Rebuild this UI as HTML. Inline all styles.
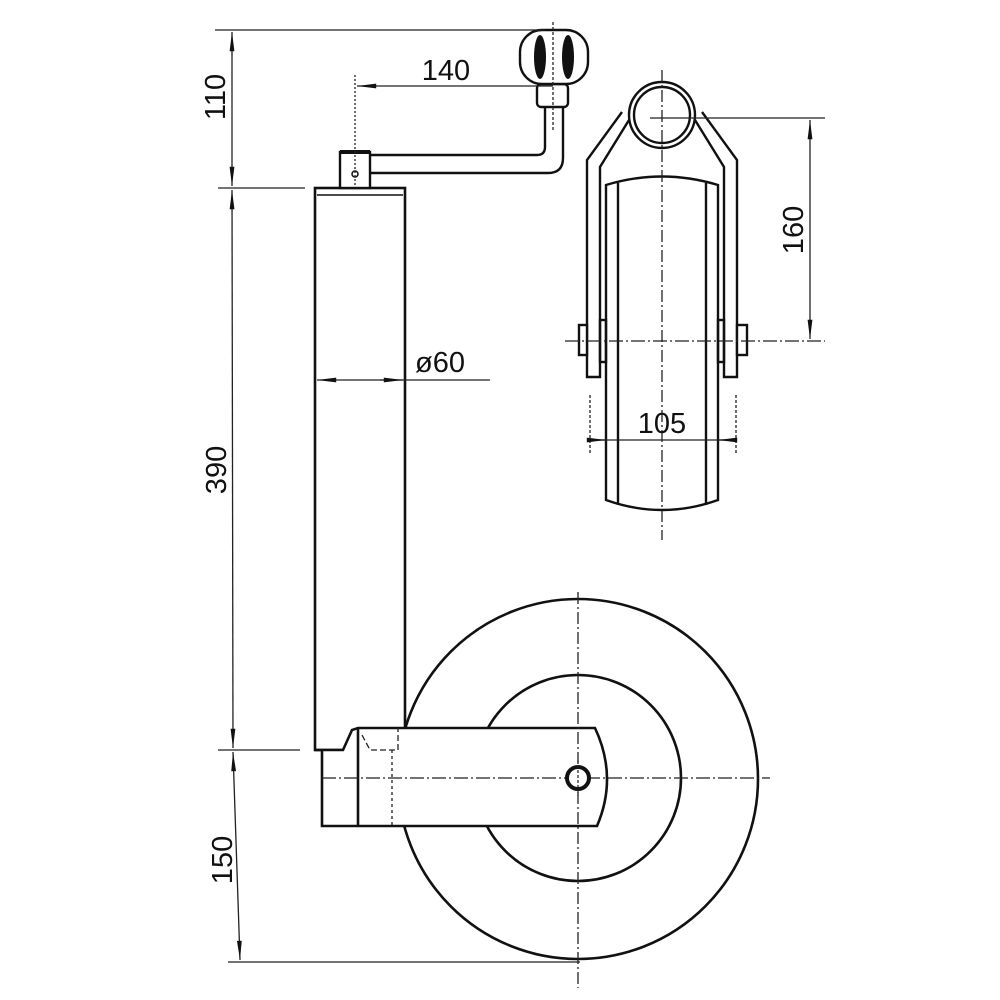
<!DOCTYPE html>
<html><head><meta charset="utf-8"><style>html,body{margin:0;padding:0;background:#fff}svg{display:block}</style></head>
<body>
<svg width="1000" height="1000" viewBox="0 0 1000 1000" xmlns="http://www.w3.org/2000/svg">
<defs>
<marker id="b" viewBox="0 0 24 10" refX="24" refY="5" markerWidth="24" markerHeight="8" orient="auto-start-reverse" markerUnits="userSpaceOnUse"><path d="M0,2 L24,5 L0,8 z" fill="#111"/></marker>
</defs>
<g font-family="Liberation Sans, sans-serif" fill="#111">
<!-- wheel -->
<g stroke="#111" stroke-width="2.6" fill="none">
<circle cx="578" cy="779" r="180"/>
<circle cx="578" cy="778" r="103"/>
</g>
<!-- tube -->
<rect x="315" y="188" width="90" height="562" fill="#fff" stroke="#111" stroke-width="2.6"/>
<line x1="317" y1="195" x2="403" y2="195" stroke="#111" stroke-width="1.5"/>
<!-- arm -->
<path d="M315,750 L343,750 L352,730 L358,728 L595,728 Q618,777 597,826 L322,826 L322,750" fill="#fff" stroke="#111" stroke-width="2.6"/>
<line x1="358" y1="728" x2="358" y2="826" stroke="#111" stroke-width="2.6"/>
<!-- crank -->
<g stroke="#111" stroke-width="2.4" fill="none">
<path d="M370,155 L537,155 Q545,155 545,147 L545,107"/>
<path d="M370,173 L548,173 Q563,173 563,158 L563,107"/>
<rect x="340" y="152" width="30" height="36" fill="#fff"/>
<rect x="537" y="84" width="31" height="23" rx="4" fill="#fff"/>
<rect x="520" y="30" width="68" height="54" rx="22" fill="#fff"/>
</g>
<line x1="340" y1="152" x2="370" y2="152" stroke="#111" stroke-width="4"/>
<circle cx="355" cy="174" r="3" fill="none" stroke="#111" stroke-width="1.5"/>
<ellipse cx="540" cy="57" rx="6" ry="22" fill="#111"/>
<ellipse cx="568" cy="57" rx="6" ry="22" fill="#111"/>
<!-- front view -->
<g stroke="#111" stroke-width="2.4" fill="none">
<path d="M606,500 L606,185 Q662,168 718,185 L718,500 Q662,520 606,500 Z" fill="#fff"/>
<line x1="618" y1="183" x2="618" y2="505"/>
<line x1="706" y1="183" x2="706" y2="505"/>
<path d="M622,112 L587,160 L587,377 L600,377 L600,167 L629,120"/>
<path d="M702,112 L737,160 L737,377 L724,377 L724,167 L695,120"/>
<rect x="600" y="320" width="6" height="42"/>
<rect x="718" y="320" width="6" height="42"/>
<rect x="579" y="325" width="8" height="30" fill="#fff"/>
<rect x="737" y="325" width="10" height="30" fill="#fff"/>
<circle cx="662" cy="115" r="33" fill="#fff"/>
<circle cx="662" cy="115" r="28"/>
</g>
<!-- thin lines on top -->
<g stroke="#222" stroke-width="1.3" fill="none">
<line x1="215" y1="30" x2="545" y2="30"/>
<line x1="218" y1="188" x2="305" y2="188"/>
<line x1="218" y1="750" x2="300" y2="750"/>
<line x1="228" y1="962" x2="580" y2="962"/>
<line x1="232" y1="32" x2="232" y2="186" marker-start="url(#b)" marker-end="url(#b)"/>
<line x1="232" y1="190" x2="233" y2="748" marker-start="url(#b)" marker-end="url(#b)"/>
<line x1="233" y1="752" x2="240" y2="960" marker-start="url(#b)" marker-end="url(#b)"/>
<line x1="355" y1="75" x2="355" y2="185" stroke-dasharray="2 2"/>
<line x1="357" y1="86" x2="553" y2="86" marker-start="url(#b)"/>
<line x1="553" y1="22" x2="553" y2="130" stroke-dasharray="3 2"/>
<line x1="317" y1="380" x2="490" y2="380" marker-start="url(#b)"/>
<line x1="380" y1="380" x2="403" y2="380" marker-end="url(#b)"/>
<line x1="650" y1="118" x2="825" y2="118"/>
<line x1="565" y1="341" x2="825" y2="341" stroke-dasharray="14 3 2 3"/>
<line x1="810" y1="120" x2="810" y2="339" marker-start="url(#b)" marker-end="url(#b)"/>
<line x1="590" y1="395" x2="590" y2="455" stroke-dasharray="3 2"/>
<line x1="736" y1="395" x2="736" y2="455" stroke-dasharray="3 2"/>
<line x1="590" y1="440" x2="736" y2="440"/>
<line x1="590" y1="440" x2="606" y2="440" marker-end="url(#b)"/>
<line x1="736" y1="440" x2="718" y2="440" marker-end="url(#b)"/>
<line x1="662" y1="70" x2="662" y2="540" stroke-dasharray="12 3 2 3"/>
<line x1="578" y1="592" x2="578" y2="988" stroke-dasharray="12 3 2 3"/>
<path d="M362,735 L370,750 L398,750 L398,728" stroke-dasharray="6 3"/>
<line x1="392" y1="750" x2="392" y2="826" stroke-dasharray="3 3"/>
<line x1="322" y1="778" x2="770" y2="778" stroke-dasharray="14 3 2 3"/>
</g>
<circle cx="578" cy="778" r="11" fill="#fff" stroke="#111" stroke-width="4"/>
<line x1="578" y1="760" x2="578" y2="796" stroke="#222" stroke-width="1.2" stroke-dasharray="3 2"/>
<!-- text -->
<text x="446" y="80" font-size="29" text-anchor="middle">140</text>
<text x="440" y="372" font-size="29" text-anchor="middle">ø60</text>
<text x="662" y="433" font-size="29" text-anchor="middle">105</text>
<text font-size="29" text-anchor="middle" transform="translate(225,97) rotate(-90)">110</text>
<text font-size="29" text-anchor="middle" transform="translate(226,470) rotate(-90)">390</text>
<text font-size="29" text-anchor="middle" transform="translate(232,860) rotate(-90)">150</text>
<text font-size="29" text-anchor="middle" transform="translate(803,230) rotate(-90)">160</text>
</g>
</svg>
</body></html>
